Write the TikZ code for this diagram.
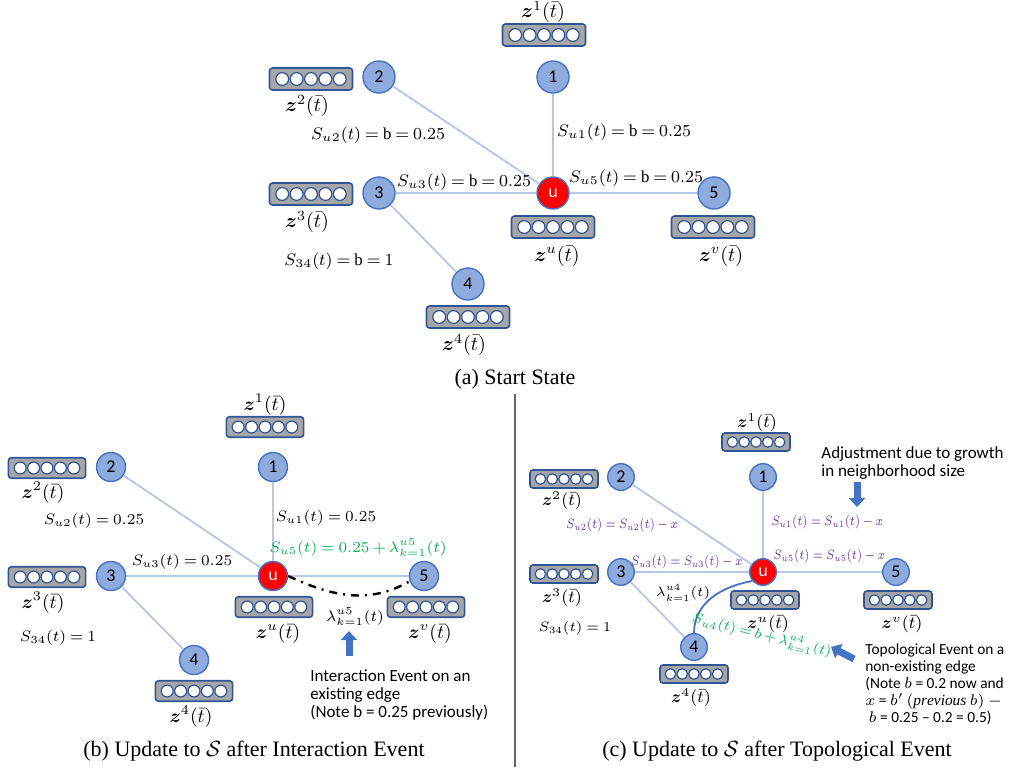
\RequirePackage{fix-cm}
\documentclass[tikz,border=0pt]{standalone}
\usepackage{amsmath}
\usepackage{fontspec}
\setmainfont{Liberation Serif}
\newfontfamily\calibfont{Carlito}
\usetikzlibrary{arrows.meta}
\thickmuskip=4mu plus 3mu
\medmuskip=3mu plus 2mu minus 3mu
\definecolor{nodeblue}{HTML}{8FAADC}
\definecolor{rimblue}{HTML}{4472C4}
\definecolor{edgeblue}{HTML}{B4C7E7}
\definecolor{boxgray}{HTML}{A6A6A6}
\definecolor{boxrim}{HTML}{2F5597}
\definecolor{adjpurple}{HTML}{7030A0}
\definecolor{evgreen}{HTML}{00B050}
\tikzset{
  vnode/.style = {circle, draw=rimblue, fill=nodeblue, line width=0.7pt,
    inner sep=0pt, font=\calibfont\fontsize{9}{10}\selectfont},% graph node
  unode/.style = {vnode, fill=red, text=white},% centre node u
  embbox/.style = {rectangle, rounded corners=1.5pt, draw=boxrim,
    fill=boxgray, line width=0.8pt, inner sep=0pt},% embedding vector
  slot/.style = {draw=boxrim, fill=white, line width=0.6pt},
  link/.style = {draw=edgeblue, line width=0.9pt},
  lbl/.style = {inner sep=1pt},
  note/.style = {align=left, inner sep=0pt, anchor=north west,
    font=\calibfont\fontsize{8.5}{9}\selectfont},
  caption/.style = {font=\fontsize{11}{13}\selectfont},
  fatarrow/.style = {draw=rimblue, line width=3.5pt,
    -{Triangle[width=8pt,length=4.5pt]}}
}
% embedding box: name, centre, scale
\newcommand{\embed}[3]{%
  \node[embbox, minimum width={#3*41.5pt}, minimum height={#3*11pt}] (#1) at (#2) {};
  \foreach \k in {-2,...,2}
    \draw[slot] ([xshift=\k*#3*7.2pt]#1.center) circle ({#3*3.2pt});
}
\newcommand{\zvec}[1]{$\boldsymbol{z}^{#1}(\bar{t})$}
\newcommand{\narrow}[1]{\scalebox{0.8}[1]{#1}}

\begin{document}
\begin{tikzpicture}[x=0.5pt, y=-0.5pt]
\useasboundingbox (0,0) rectangle (1011,767);

% (a) start state
\begin{scope}[vnode/.append style={minimum size=16pt}, font=\fontsize{8.4}{10}\selectfont]
  \node[vnode] (a1) at (553,77) {1};
  \node[vnode] (a2) at (379,77) {2};
  \node[vnode] (a3) at (379,193) {3};
  \node[vnode] (a4) at (468,284) {4};
  \node[vnode] (a5) at (714,193) {5};
  \node[unode] (au) at (553,193) {u};
  \foreach \v in {1,2,3,5} \draw[link] (au) -- (a\v);
  \draw[link] (a3) -- (a4);
  \embed{az1}{544,35}{1}
  \embed{az2}{311,79}{1}
  \embed{az3}{311,194}{1}
  \embed{azu}{553,227}{1}
  \embed{azv}{713,227}{1}
  \embed{az4}{468,317}{1}
  \begin{scope}[font=\fontsize{10}{11}\selectfont]
    \node[lbl] (az1l) at (543,12) {\zvec{1}};
    \node[lbl] (az2l) at (307,106) {\zvec{2}};
    \node[lbl] (az3l) at (307,222) {\zvec{3}};
    \node[lbl] (azul) at (557,256) {\zvec{u}};
    \node[lbl] (azvl) at (721,256) {\zvec{v}};
    \node[lbl] (az4l) at (464,345) {\zvec{4}};
  \end{scope}
  \node[lbl] (aSu2) at (378,135) {$S_{u2}(t) = \mathrm{b} = 0.25$};
  \node[lbl] (aSu1) at (624,132) {$S_{u1}(t) = \mathrm{b} = 0.25$};
  \node[lbl] (aSu3) at (464,182) {$S_{u3}(t) = \mathrm{b} = 0.25$};
  \node[lbl] (aSu5) at (636,178) {$S_{u5}(t) = \mathrm{b} = 0.25$};
  \node[lbl] (aS34) at (339,261) {$S_{34}(t) = \mathrm{b} = 1$};
  \node[caption] (acap) at (515,379) {(a) Start State};
\end{scope}

\draw[gray!80!black, line width=0.8pt] (515,394) -- (515,767);

% (b) interaction event
\begin{scope}[vnode/.append style={minimum size=14.5pt}, font=\fontsize{7.6}{9}\selectfont]
  \node[vnode] (b1) at (273,467) {1};
  \node[vnode] (b2) at (111,467) {2};
  \node[vnode] (b3) at (111,576) {3};
  \node[vnode] (b4) at (194,660) {4};
  \node[vnode] (b5) at (424,576) {5};
  \node[unode] (bu) at (273,576) {u};
  \foreach \v in {1,2,3,5} \draw[link] (bu) -- (b\v);
  \draw[link] (b3) -- (b4);
  \draw[line width=1.2pt, dash pattern=on 4pt off 3pt on 1pt off 3pt]
    (bu.east) to[out=-25, in=-150] (b5.200);
  \embed{bz1}{265,427}{0.93}
  \embed{bz2}{47,468}{0.93}
  \embed{bz3}{47,577}{0.93}
  \embed{bzu}{274,607}{0.93}
  \embed{bzv}{426,607}{0.93}
  \embed{bz4}{194,691}{0.93}
  \begin{scope}[font=\fontsize{9.5}{10}\selectfont]
    \node[lbl] (bz1l) at (265,405) {\zvec{1}};
    \node[lbl] (bz2l) at (43,493) {\zvec{2}};
    \node[lbl] (bz3l) at (43,603) {\zvec{3}};
    \node[lbl] (bzul) at (278,634) {\zvec{u}};
    \node[lbl] (bzvl) at (430,634) {\zvec{v}};
    \node[lbl] (bz4l) at (191,717) {\zvec{4}};
  \end{scope}
  \node[lbl] (bSu2) at (94,521) {$S_{u2}(t) = 0.25$};
  \node[lbl] (bSu1) at (326,518) {$S_{u1}(t) = 0.25$};
  \node[lbl] (bSu3) at (182,562) {$S_{u3}(t) = 0.25$};
  \node[lbl] (bS34) at (58,638) {$S_{34}(t) = 1$};
  \node[lbl, text=evgreen] (bSu5) at (358,548) {$S_{u5}(t) = 0.25 + \lambda^{u5}_{k=1}(t)$};
  \node[lbl] (blam) at (355,617) {$\lambda^{u5}_{k=1}(t)$};
  \coordinate (bArrTail) at (349,656);
  \coordinate (bArrTip) at (349,631);
  \draw[fatarrow] (bArrTail) -- (bArrTip);
  \node[note] (bnote) at (310,669) {Interaction Event on an\\existing edge\\(Note b = 0.25 previously)};
  \node[caption] (bcap) at (254,751) {(b) Update to $\mathcal{S}$ after Interaction Event};
\end{scope}

% (c) topological event
\begin{scope}[vnode/.append style={minimum size=13.3pt}, font=\fontsize{6.8}{8}\selectfont]
  \node[vnode] (c1) at (763,477) {1};
  \node[vnode] (c2) at (621,477) {2};
  \node[vnode] (c3) at (621,572) {3};
  \node[vnode] (c4) at (694,647) {4};
  \node[vnode] (c5) at (896,572) {5};
  \node[unode] (cu) at (763,572) {u};
  \foreach \v in {1,2,3,5} \draw[link] (cu) -- (c\v);
  \draw[link] (c3) -- (c4);
  \draw[draw=rimblue, line width=0.9pt] (cu.220) to[out=190, in=90] (c4.north);
  \embed{cz1}{756,442}{0.82}
  \embed{cz2}{564,479}{0.82}
  \embed{cz3}{564,574}{0.82}
  \embed{czu}{765,600}{0.82}
  \embed{czv}{898,600}{0.82}
  \embed{cz4}{694,674}{0.82}
  \begin{scope}[font=\fontsize{8.5}{9}\selectfont]
    \node[lbl] (cz1l) at (757,423) {\zvec{1}};
    \node[lbl] (cz2l) at (562,501) {\zvec{2}};
    \node[lbl] (cz3l) at (562,598) {\zvec{3}};
    \node[lbl] (czul) at (768,624) {\zvec{u}};
    \node[lbl] (czvl) at (902,624) {\zvec{v}};
    \node[lbl] (cz4l) at (691,698) {\zvec{4}};
  \end{scope}
  \node[lbl, text=adjpurple] (cSu2) at (622,525) {\narrow{$S_{u2}(t) = S_{u2}(t) - x$}};
  \node[lbl, text=adjpurple, anchor=west] (cSu1) at (769,522) {\narrow{$S_{u1}(t) = S_{u1}(t) - x$}};
  \node[lbl, text=adjpurple, anchor=west] (cSu5) at (771,556) {\narrow{$S_{u5}(t) = S_{u5}(t) - x$}};
  \node[lbl, text=adjpurple, anchor=east] (cSu3) at (745,562) {\narrow{$S_{u3}(t) = S_{u3}(t) - x$}};
  \node[lbl] (cS34) at (575,628) {$S_{34}(t) = 1$};
  \node[lbl] (clam) at (683,593) {$\lambda^{u4}_{k=1}(t)$};
  \node[lbl, text=evgreen, rotate=-14, font=\fontsize{7}{8}\selectfont] (cSu4) at (762,635) {$S_{u4}(t) = b + \lambda^{u4}_{k=1}(t)$};
  \coordinate (cAdjTail) at (857,482);
  \coordinate (cAdjTip) at (857,507);
  \draw[fatarrow] (cAdjTail) -- (cAdjTip);
  \node[note] (cadj) at (821,446) {Adjustment due to growth\\in neighborhood size};
  \coordinate (cTopTail) at (854,659);
  \coordinate (cTopTip) at (831,647);
  \draw[fatarrow] (cTopTail) -- (cTopTip);
  \node[note, font=\calibfont\fontsize{7.7}{8.6}\selectfont] (ctop) at (865,643) {Topological Event on a\\non-existing edge\\(Note $b$ = 0.2 now and\\$x$ = $b'\,(\mathit{previous}\ b)$ $-$\\\ $b$ = 0.25 – 0.2 = 0.5)};
  \node[caption] (ccap) at (777,751) {(c) Update to $\mathcal{S}$ after Topological Event};
\end{scope}
\end{tikzpicture}
\end{document}
